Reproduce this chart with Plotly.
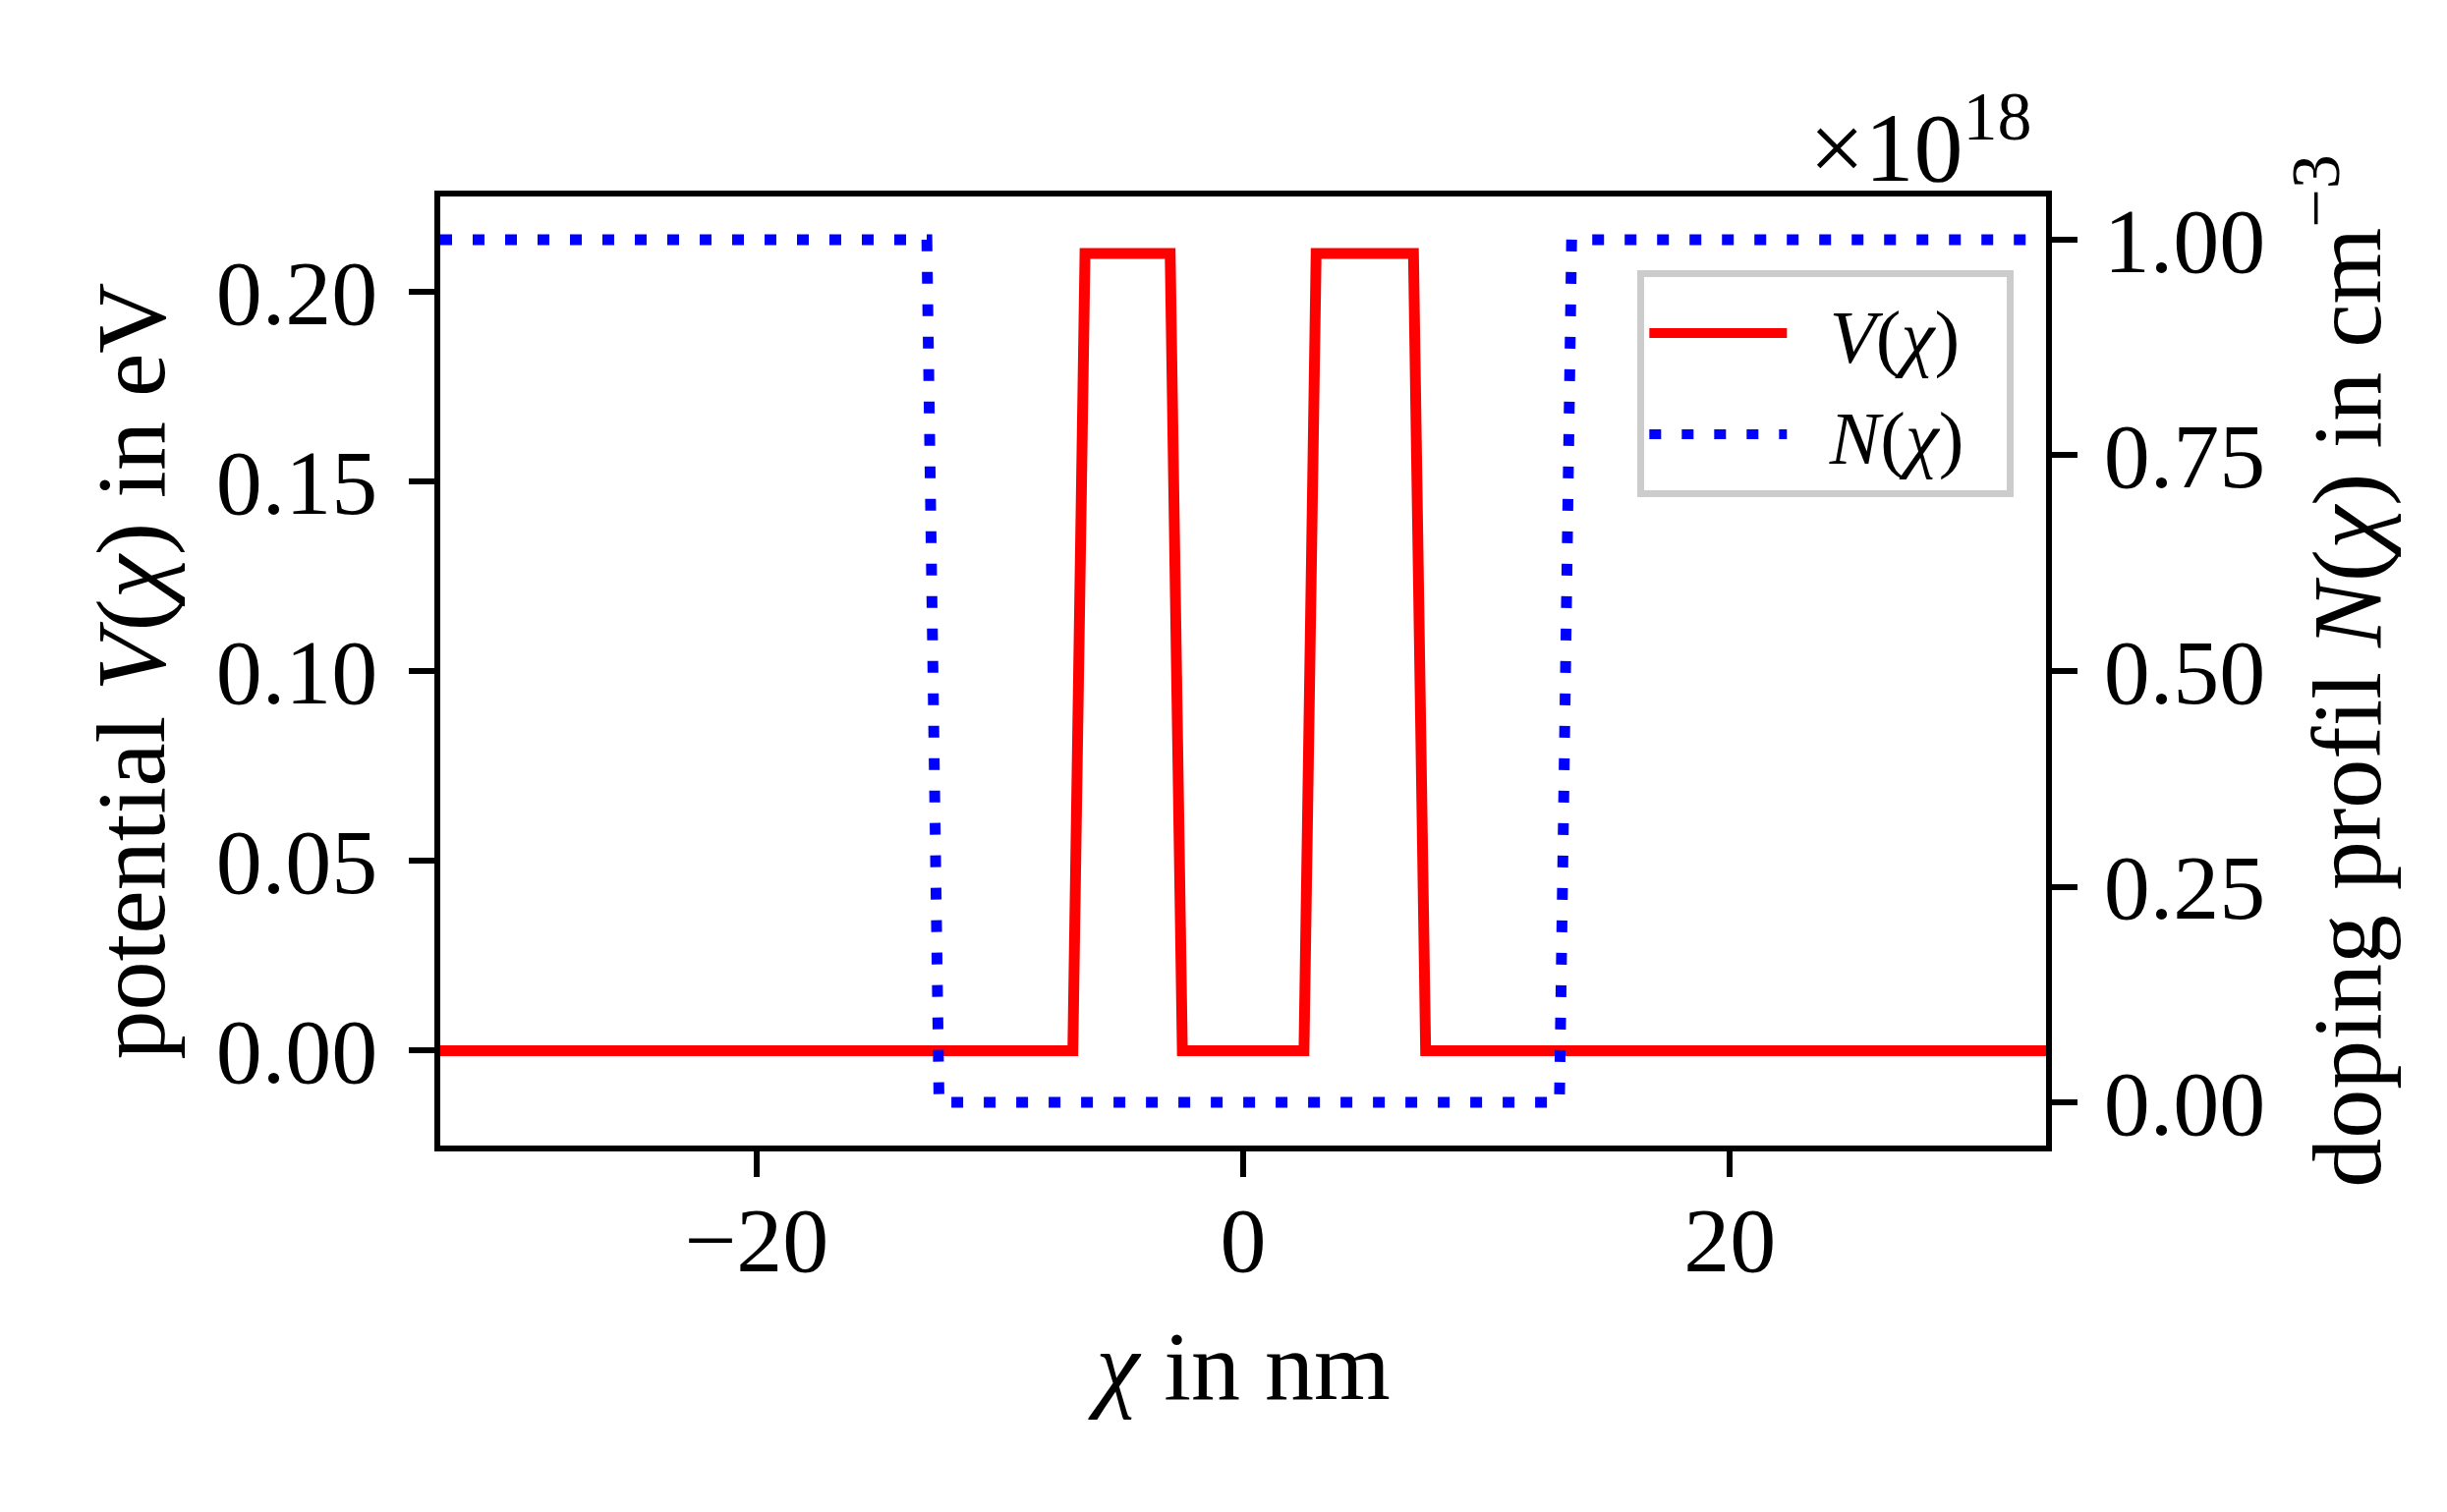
import plotly.graph_objects as go

# ---- data ----
x_V = [-33.0, -7.0, -6.5, -3.0, -2.5, 2.5, 3.0, 7.0, 7.5, 33.0]
V = [0.0, 0.0, 0.21, 0.21, 0.0, 0.0, 0.21, 0.21, 0.0, 0.0]
x_N = [-33.0, -13.0, -12.5, 13.0, 13.5, 33.0]
N = [1e18, 1e18, 0.0, 0.0, 1e18, 1e18]

x_ticks = [-20, 0, 20]
x_ticklabels = ["\u221220", "0", "20"]
v_ticks = [0.00, 0.05, 0.10, 0.15, 0.20]
n_ticklabels = ["0.00", "0.25", "0.50", "0.75", "1.00"]
n_scale = 1e18

FONT = "Liberation Serif"
FS = 94     # tick labels
FT = 100    # axis titles
NB = "\u00a0\u00a0"

fig = go.Figure()
fig.add_trace(go.Scatter(
    x=x_V, y=V, mode="lines", name=NB + "<i>V</i>(<i>\u03c7</i>)" + NB,
    line=dict(color="#ff0000", width=11), yaxis="y"))
fig.add_trace(go.Scatter(
    x=x_N, y=N, mode="lines", name=NB + "<i>N</i>(<i>\u03c7</i>)" + NB,
    line=dict(color="#0000ff", width=11, dash="12px,21px"), yaxis="y2"))

axis_common = dict(
    showline=True, linecolor="black", linewidth=6,
    ticks="outside", ticklen=26, tickwidth=6, tickcolor="black",
    showgrid=False, zeroline=False,
    tickfont=dict(family=FONT, size=FS, color="black"),
)

fig.update_layout(
    width=2490, height=1539,
    margin=dict(l=440, r=416, t=192, b=381, pad=0),
    paper_bgcolor="white", plot_bgcolor="white",
    font=dict(family=FONT, size=FS, color="black"),
    xaxis=dict(range=[-33, 33], tickvals=x_ticks, ticktext=x_ticklabels,
               mirror=True, ticklabelstandoff=-17,
               title=dict(text="<i>\u03c7</i> in nm", standoff=43,
                          font=dict(family=FONT, size=FT)),
               **axis_common),
    yaxis=dict(range=[-0.025, 0.225], tickvals=v_ticks, tickformat=".2f",
               ticklabelstandoff=13,
               title=dict(text="potential <i>V</i>(<i>\u03c7</i>) in eV", standoff=21,
                          font=dict(family=FONT, size=FT)),
               **axis_common),
    yaxis2=dict(range=[-0.05 * n_scale, 1.05 * n_scale],
                tickvals=[float(t) * n_scale for t in n_ticklabels],
                ticktext=n_ticklabels, overlaying="y", side="right",
                ticklabelstandoff=8,
                title=dict(text="doping profil <i>N</i>(<i>\u03c7</i>) in cm<sup>\u22123</sup>",
                           standoff=50, font=dict(family=FONT, size=FT)),
                **axis_common),
    legend=dict(x=0.98, y=0.922, xanchor="right", yanchor="top",
                bgcolor="rgba(255,255,255,0.8)", bordercolor="#cccccc",
                borderwidth=7, font=dict(family=FONT, size=77),
                itemwidth=140, tracegroupgap=0),
    showlegend=True,
)

fig.add_annotation(
    text="\u00d710<sup>18</sup>", xref="paper", yref="paper",
    x=0.992, y=1.0, xanchor="right", yanchor="bottom", yshift=-8,
    showarrow=False, font=dict(family=FONT, size=100, color="black"))

fig.write_html("out.html")
